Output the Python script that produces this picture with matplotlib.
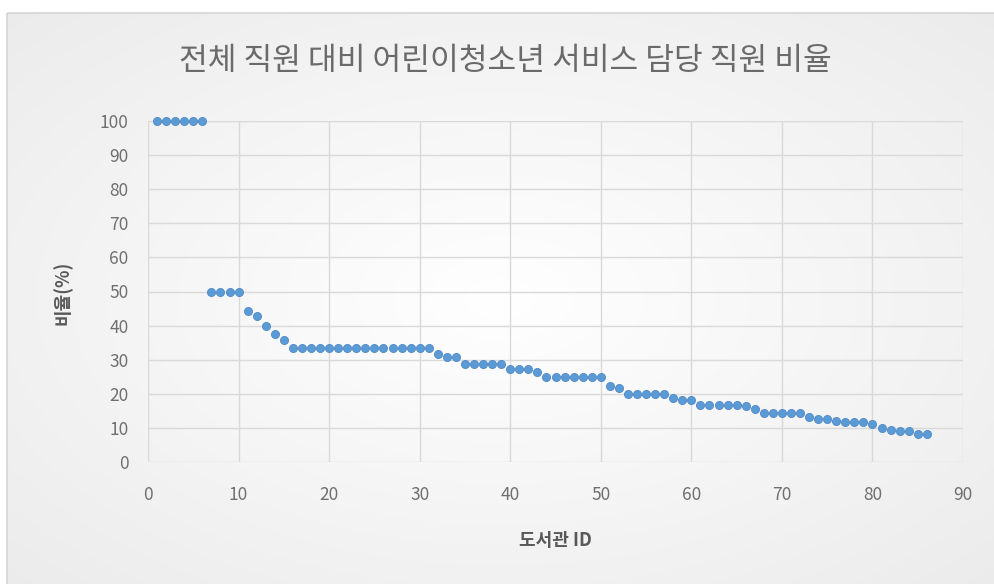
import numpy as np
import matplotlib
matplotlib.use("Agg")
import matplotlib.pyplot as plt
from matplotlib.patches import Rectangle

plt.rcParams['font.family'] = ['Noto Sans CJK KR', 'DejaVu Sans']

# 데이터
library_id = list(range(1, 87))
ratio = [
    100, 100, 100, 100, 100, 100,
    50, 50, 50, 50,
    44.4, 42.9, 40.0, 37.5, 35.7,
    33.3, 33.3, 33.3, 33.3, 33.3, 33.3, 33.3, 33.3,
    33.3, 33.3, 33.3, 33.3, 33.3, 33.3, 33.3, 33.3,
    31.6, 30.8, 30.8,
    28.6, 28.6, 28.6, 28.6, 28.6,
    27.3, 27.3, 27.3, 26.3,
    25.0, 25.0, 25.0, 25.0, 25.0, 25.0, 25.0,
    22.2, 21.7,
    20.0, 20.0, 20.0, 20.0, 20.0,
    18.8, 18.2, 18.2,
    16.7, 16.7, 16.7, 16.7, 16.7,
    16.3, 15.6,
    14.5, 14.5, 14.5, 14.5, 14.5,
    13.3, 12.5, 12.5, 12.0, 11.8, 11.8, 11.8, 11.1,
    10.0, 9.5, 9.1, 9.1, 8.3, 8.3,
]
x_ticks = list(range(0, 91, 10))
y_ticks = list(range(0, 101, 10))

title = "전체 직원 대비 어린이청소년 서비스 담당 직원 비율"
x_label = "도서관 ID"
y_label = "비율(%)"

W, H = 994, 584
fig = plt.figure(figsize=(W / 100, H / 100), dpi=100)
fig.patch.set_facecolor("white")

# 배경 (엑셀 스타일 은은한 그라데이션)
bg = fig.add_axes([0, 0, 1, 1], zorder=-5)
bg.set_xlim(0, W)
bg.set_ylim(H, 0)
bg.axis("off")
gx, gy = np.meshgrid(np.linspace(-1, 1, 200), np.linspace(-1, 1, 120))
dist = np.sqrt((gx * 0.9) ** 2 + (gy * 0.9) ** 2)
shade = 1.0 - 0.06 * np.clip(dist, 0, 1.3)
rgb = np.dstack([shade, shade, shade])
bg.imshow(rgb, extent=[7, W, H, 13], aspect="auto", interpolation="bilinear")
bg.add_patch(Rectangle((7, 13), W, H, fill=False, edgecolor="#d4d4d4", lw=1.2))

# 산점도
ax = fig.add_axes([148 / W, 1 - 462 / H, (963 - 148) / W, (462 - 121) / H])
ax.set_facecolor("none")
ax.scatter(library_id, ratio, s=34, color="#5b9bd5", edgecolor="#4f89c6",
           linewidth=0.6, zorder=3, clip_on=False)

ax.set_xlim(0, 90)
ax.set_ylim(0, 100)
ax.set_xticks(x_ticks)
ax.set_yticks(y_ticks)
ax.grid(True, color="#d9d9d9", linewidth=1.0)
ax.set_axisbelow(True)
for s in ax.spines.values():
    s.set_visible(False)
ax.tick_params(length=0, colors="#6f6f6f", labelsize=12.5)
ax.tick_params(axis="x", pad=17)
ax.tick_params(axis="y", pad=14)

fig.text(0.508, 1 - 61 / H, title, ha="center", va="center",
         fontsize=22.5, color="#6a6a6a", fontweight="light")
fig.text(555 / W, 1 - 541 / H, x_label, ha="center", va="center",
         fontsize=13, color="#595959", fontweight="bold")
fig.text(63 / W, 1 - 293 / H, y_label, ha="center", va="center",
         rotation=90, fontsize=13, color="#595959", fontweight="bold")

fig.savefig("out.png", dpi=100)
